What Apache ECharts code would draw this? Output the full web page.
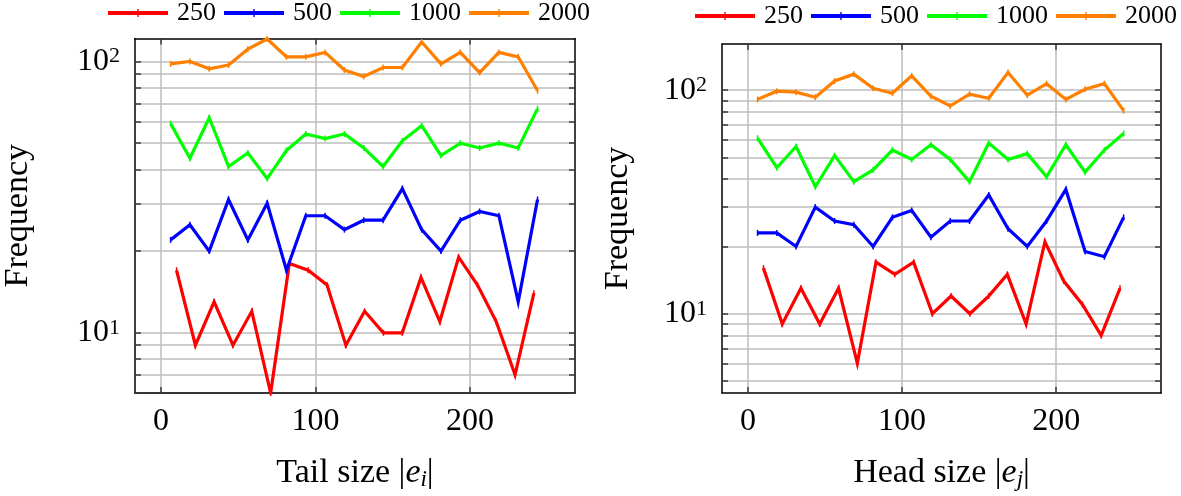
<!DOCTYPE html>
<html><head><meta charset="utf-8">
<script src="https://cdn.jsdelivr.net/npm/echarts@6/dist/echarts.min.js"></script>
<style>html,body{margin:0;padding:0;background:#fff}#c{width:1181px;height:496px}</style>
</head><body><div id="c"></div>
<script>
// ---- data ----
const seriesNames = ['250', '500', '1000', '2000'];
const seriesColors = ['#ff0000', '#0000ff', '#00ff00', '#ff8000'];

const xMain = [6.25, 18.75, 31.25, 43.75, 56.25, 68.75, 81.25, 93.75, 106.25, 118.75,
               131.25, 143.75, 156.25, 168.75, 181.25, 193.75, 206.25, 218.75, 231.25, 243.75];
const xRed  = [10.1, 22.3, 34.4, 46.6, 58.8, 71.0, 83.1, 95.3, 107.5, 119.7,
               131.8, 144.0, 156.2, 168.3, 180.5, 192.7, 204.9, 217.0, 229.2, 241.4];

// Tail size panel
const tail250  = [17, 9, 13, 9, 12, 6, 18, 17, 15, 9, 12, 10, 10, 16, 11, 19, 15, 11, 7, 14];
const tail500  = [22, 25, 20, 31, 22, 30, 17, 27, 27, 24, 26, 26, 34, 24, 20, 26, 28, 27, 13, 31];
const tail1000 = [59, 44, 62, 41, 46, 37, 47, 54, 52, 54, 48, 41, 51, 58, 45, 50, 48, 50, 48, 67];
const tail2000 = [98, 100, 94, 97, 111, 121, 104, 104, 108, 93, 88, 95, 95, 118, 98, 108, 91, 108, 104, 78];

// Head size panel
const head250  = [16, 9, 13, 9, 13, 6, 17, 15, 17, 10, 12, 10, 12, 15, 9, 21, 14, 11, 8, 13];
const head500  = [23, 23, 20, 30, 26, 25, 20, 27, 29, 22, 26, 26, 34, 24, 20, 26, 36, 19, 18, 27];
const head1000 = [61, 45, 56, 37, 51, 39, 44, 54, 49, 57, 49, 39, 58, 49, 52, 41, 57, 43, 54, 64];
const head2000 = [91, 99, 98, 93, 110, 118, 102, 97, 116, 94, 85, 96, 92, 120, 95, 107, 91, 101, 107, 81];

const xTickValues = [0, 100, 200];
const yLabelValues = [10, 100];
const yGridTail = [6, 7, 8, 9, 10, 20, 30, 40, 50, 60, 70, 80, 90, 100];
const yGridHead = [5, 6, 7, 8, 9, 10, 20, 30, 40, 50, 60, 70, 80, 90, 100];
const xExtent = [-16.8, 268];
const yExtentTail = [6, 121.5];
const yExtentHead = [4.42, 161];

// ---- chart ----
const FONT = 'Liberation Serif';
const chart = echarts.init(document.getElementById('c'), null, {renderer: 'canvas'});

const legendIcon = 'path://M0,2 L60,2 L60,6 L0,6 Z M29.3,0 L30.7,0 L30.7,8 L29.3,8 Z';
const gridColor = '#bcbcbc';
const tickColor = '#3a3a3a';

function xAxes(gi, title) {
  return [{
    type: 'value', gridIndex: gi, min: xExtent[0], max: xExtent[1], position: 'bottom',
    axisLine: {show: true, onZero: false, lineStyle: {color: '#000', width: 1.5}},
    axisTick: {show: true, inside: true, length: 6, customValues: xTickValues, lineStyle: {color: tickColor, width: 1.5}},
    axisLabel: {customValues: xTickValues, fontSize: 32, fontFamily: FONT, color: '#000', margin: 13},
    splitLine: {show: true, lineStyle: {color: gridColor, width: 1.5}},
    name: title, nameLocation: 'middle', nameGap: 62,
    nameTextStyle: {
      fontSize: 34, fontFamily: FONT, color: '#000',
      rich: {
        n: {fontSize: 34, fontFamily: FONT, color: '#000', lineHeight: 36},
        e: {fontSize: 34, fontFamily: FONT, fontStyle: 'italic', color: '#000', lineHeight: 36},
        s: {fontSize: 23, fontFamily: FONT, fontStyle: 'italic', color: '#000', lineHeight: 10, verticalAlign: 'bottom'}
      }
    }
  }, {
    type: 'value', gridIndex: gi, min: xExtent[0], max: xExtent[1], position: 'top',
    axisLine: {show: true, onZero: false, lineStyle: {color: '#000', width: 1.5}},
    axisTick: {show: true, inside: true, length: 6, customValues: xTickValues, lineStyle: {color: tickColor, width: 1.5}},
    axisLabel: {show: false}, splitLine: {show: false}
  }];
}

function yAxes(gi, ext, gridVals, gap) {
  return [{
    type: 'log', logBase: 10, gridIndex: gi, min: ext[0], max: ext[1], position: 'left',
    axisLine: {show: true, onZero: false, lineStyle: {color: '#000', width: 1.5}},
    axisTick: {show: true, inside: true, length: 6, customValues: gridVals, lineStyle: {color: tickColor, width: 1.5}},
    axisLabel: {
      customValues: yLabelValues, margin: 15, color: '#000',
      formatter: v => {
        const p = Math.round(Math.log10(v));
        return (Math.abs(Math.pow(10, p) - v) < 1e-6) ? '{b|10}{s|' + p + '}' : '';
      },
      rich: {
        b: {fontSize: 32, fontFamily: FONT, color: '#000'},
        s: {fontSize: 22, fontFamily: FONT, color: '#000', verticalAlign: 'top'}
      }
    },
    splitLine: {show: true, lineStyle: {color: gridColor, width: 1.5}},
    name: 'Frequency', nameLocation: 'middle', nameRotate: 90, nameGap: gap,
    nameTextStyle: {fontSize: 34, fontFamily: FONT, color: '#000'}
  }, {
    type: 'log', logBase: 10, gridIndex: gi, min: ext[0], max: ext[1], position: 'right',
    axisLine: {show: true, onZero: false, lineStyle: {color: '#000', width: 1.5}},
    axisTick: {show: true, inside: true, length: 6, customValues: gridVals, lineStyle: {color: tickColor, width: 1.5}},
    axisLabel: {show: false}, splitLine: {show: false}
  }];
}

function mkSeries(vals, xs, idx, xi, yi) {
  return {
    type: 'line', name: seriesNames[idx], xAxisIndex: xi, yAxisIndex: yi,
    data: xs.map((x, i) => [x, vals[i]]),
    symbol: 'rect', symbolSize: [1.5, 6], showSymbol: true,
    itemStyle: {color: seriesColors[idx]},
    lineStyle: {color: seriesColors[idx], width: 3.2, join: 'miter', miterLimit: 10},
    clip: true, z: 3 + idx, animation: false
  };
}

const tailSets = [tail250, tail500, tail1000, tail2000];
const headSets = [head250, head500, head1000, head2000];
const series = [];
tailSets.forEach((v, i) => series.push(mkSeries(v, i === 0 ? xRed : xMain, i, 0, 0)));
headSets.forEach((v, i) => series.push(mkSeries(v, i === 0 ? xRed : xMain, i, 2, 2)));

function legend(left, top) {
  return {
    left: left, top: top, width: 520, padding: 0, orient: 'horizontal',
    itemWidth: 60, itemHeight: 8, itemGap: 8,
    icon: legendIcon,
    data: seriesNames.map(n => ({name: n, icon: legendIcon})),
    textStyle: {fontSize: 26, fontFamily: FONT, color: '#000', padding: [0, 0, 0, 4]},
    selectedMode: false
  };
}

chart.setOption({
  animation: false,
  backgroundColor: '#fff',
  legend: [legend(108, 0), legend(695, 3)],
  grid: [
    {left: 135, top: 38.5, width: 440, height: 359.5, show: false},
    {left: 722, top: 44, width: 439, height: 358, show: false}
  ],
  xAxis: [...xAxes(0, '{n|Tail size |}{e|e}{s|i}{n||}'), ...xAxes(1, '{n|Head size |}{e|e}{s|j}{n||}')],
  yAxis: [...yAxes(0, yExtentTail, yGridTail, 100), ...yAxes(1, yExtentHead, yGridHead, 87)],
  series: series
});
</script>
</body></html>
